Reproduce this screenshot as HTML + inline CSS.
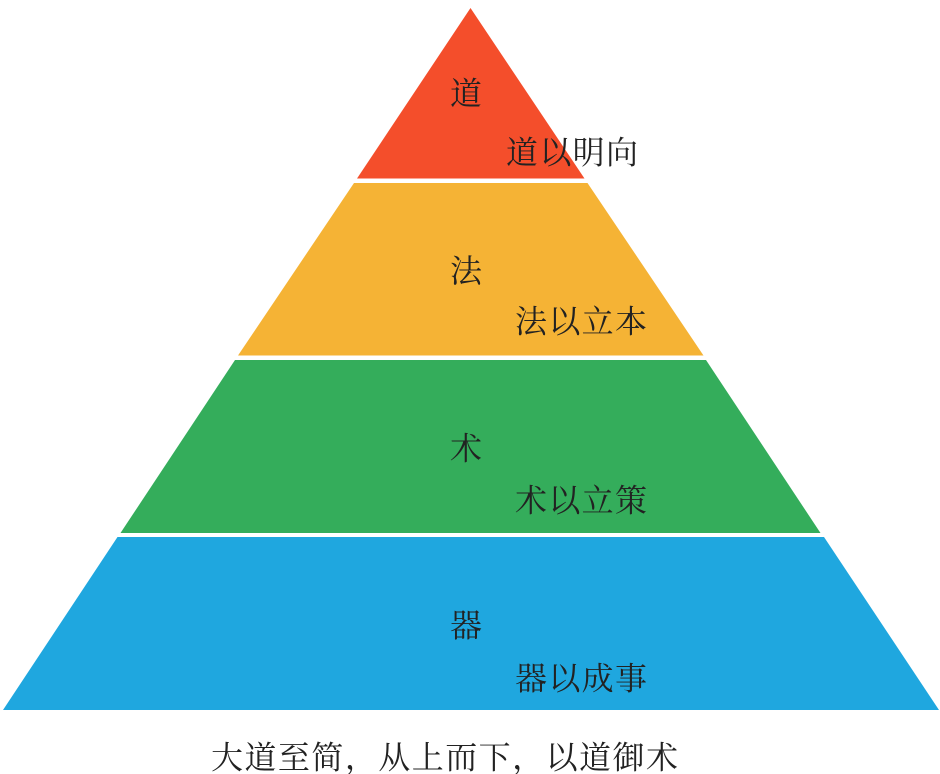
<!DOCTYPE html>
<html lang="zh">
<head>
<meta charset="utf-8">
<style>
html,body{margin:0;padding:0;background:#fff;}
svg{display:block;}
text{font-family:"Noto Serif CJK SC","Liberation Serif",serif;font-size:32px;fill:#222;font-weight:400;}
</style>
</head>
<body>
<svg width="940" height="774" viewBox="0 0 940 774" xmlns="http://www.w3.org/2000/svg">
<polygon points="470.5,8 584.5,178.5 357,178.5" fill="#f44e2b"/>
<polygon points="354,183 587.5,183 703.5,355.5 238,355.5" fill="#f5b335"/>
<polygon points="235,360 706,360 820.5,533 120.5,533" fill="#34ad5b"/>
<polygon points="117.5,537 824,537 939,710 3,710" fill="#1fa7df"/>
<text x="450" y="104.500">道</text>
<text x="506" y="163.500" textLength="132">道以明向</text>
<text x="450" y="282">法</text>
<text x="515" y="332.500" textLength="132">法以立本</text>
<text x="450" y="459.500">术</text>
<text x="515" y="511.500" textLength="132">术以立策</text>
<text x="450" y="636.500">器</text>
<text x="515" y="689.500" textLength="132">器以成事</text>
<text x="211" y="768.500" textLength="467">大道至简，从上而下，以道御术</text>
</svg>
</body>
</html>
